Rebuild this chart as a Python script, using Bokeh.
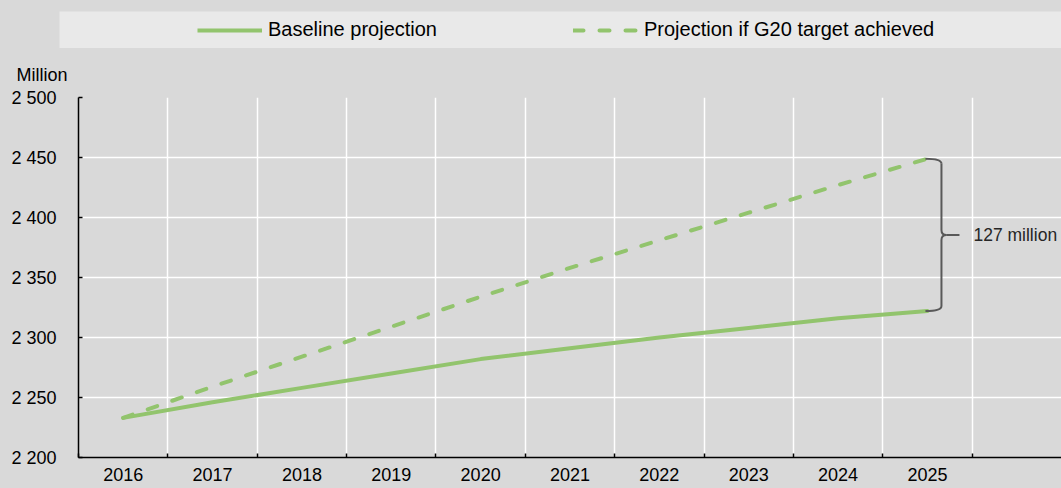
from bokeh.plotting import figure
from bokeh.models import Range1d, FixedTicker, Legend, LegendItem, Label, Title
from bokeh.layouts import column
from bokeh.embed import file_html
from bokeh.resources import INLINE

# ---------------- data ----------------
years = [2016, 2017, 2018, 2019, 2020, 2021, 2022, 2023, 2024, 2025]
baseline = [2233, 2246, 2258, 2270, 2282, 2291, 2300, 2308, 2316, 2322]
g20_target = [2233, 2259, 2284, 2309, 2334, 2358, 2381, 2404, 2427, 2449]
x_tick_labels = ["2016", "2017", "2018", "2019", "2020", "2021", "2022", "2023", "2024", "2025"]
y_ticks = [2200, 2250, 2300, 2350, 2400, 2450, 2500]
y_tick_labels = ["2 200", "2 250", "2 300", "2 350", "2 400", "2 450", "2 500"]
series_names = ["Baseline projection", "Projection if G20 target achieved"]
unit_label = "Million"
gap_label = "127 million"

# ---------------- style ----------------
FONT = "Liberation Sans"
FS = "18px"
LEG_FS = "20px"
BG = "#d9d9d9"
BOX = "#e9e9e9"
GREEN = "#92c46d"
BRACE = "#595959"
W = 1061
TOP_H = 48
MAIN_H = 488 - TOP_H
LEFT = 78
X0, X1 = years[0] - 0.5, years[-1] + 1.5
Y0, Y1 = y_ticks[0], y_ticks[-1]

# ---------------- legend strip ----------------
top = figure(width=W, height=TOP_H, x_range=Range1d(0, 1), y_range=Range1d(0, 1),
             x_axis_location=None, y_axis_location=None,
             toolbar_location=None, output_backend="svg",
             min_border_left=59, min_border_right=0, min_border_top=11, min_border_bottom=0,
             background_fill_color=BOX, border_fill_color=BG, outline_line_color=None)
top.frame_align = False
top.xgrid.visible = False
top.ygrid.visible = False
# legend swatches (the series lie outside this strip's ranges, so only the legend shows)
r1 = top.line(years, baseline, line_color=GREEN, line_width=4)
r2 = top.line(years, g20_target, line_color=GREEN, line_width=4, line_dash="10 16", line_cap="round")
legend = Legend(items=[LegendItem(label=series_names[0], renderers=[r1]),
                       LegendItem(label=series_names[1], renderers=[r2])],
                orientation="horizontal", location=(138, 6.5),
                padding=0, margin=0, spacing=70,
                glyph_width=65, glyph_height=24, label_height=24, label_width=235,
                label_standoff=6, label_text_font=FONT, label_text_font_size=LEG_FS,
                label_text_color="#000000", background_fill_alpha=0, border_line_color=None)
top.add_layout(legend, "center")

# ---------------- main chart ----------------
p = figure(width=W, height=MAIN_H, x_range=Range1d(X0, X1), y_range=Range1d(Y0, Y1),
           toolbar_location=None, output_backend="svg",
           min_border_left=LEFT, min_border_right=0, min_border_top=49, min_border_bottom=31,
           background_fill_color=BG, border_fill_color=BG, outline_line_color=None)
p.frame_align = False
p.title = Title(text=unit_label, align="left", offset=-62, standoff=26,
                text_font=FONT, text_font_size=FS, text_font_style="normal",
                text_color="#000000")

boundaries = [y - 0.5 for y in years] + [years[-1] + 0.5]
xt = FixedTicker(ticks=years, minor_ticks=boundaries)
p.xaxis.ticker = xt
p.xaxis.major_label_overrides = {y: lab for y, lab in zip(years, x_tick_labels)}
p.xaxis.major_tick_in = 0
p.xaxis.major_tick_out = 0
p.xaxis.minor_tick_in = 4
p.xaxis.minor_tick_out = 0
p.xaxis.minor_tick_line_color = "#000000"
p.xaxis.minor_tick_line_width = 1.5
p.xaxis.major_label_standoff = 10
p.xgrid.ticker = xt
p.xgrid.grid_line_color = None
p.xgrid.minor_grid_line_color = "#ffffff"
p.xgrid.minor_grid_line_width = 1.5

p.yaxis.ticker = FixedTicker(ticks=y_ticks, minor_ticks=[])
p.yaxis.major_label_overrides = {t: lab for t, lab in zip(y_ticks, y_tick_labels)}
p.yaxis.major_tick_in = 4
p.yaxis.major_tick_out = 0
p.yaxis.minor_tick_in = 0
p.yaxis.minor_tick_out = 0
p.yaxis.major_tick_line_width = 1.5
p.yaxis.major_label_standoff = 22
p.ygrid.grid_line_color = "#ffffff"
p.ygrid.grid_line_width = 1.5

for ax in (p.xaxis, p.yaxis):
    ax.axis_line_color = "#000000"
    ax.axis_line_width = 1.5
    ax.major_tick_line_color = "#000000"
    ax.major_label_text_font = FONT
    ax.major_label_text_font_size = FS
    ax.major_label_text_color = "#000000"

p.line(years, baseline, line_color=GREEN, line_width=4, line_join="round", line_cap="round")
p.line(years, g20_target, line_color=GREEN, line_width=4, line_dash="10 16",
       line_join="round", line_cap="round")

# brace showing the gap in 2025
px_x = (W - LEFT) / (X1 - X0)
px_y = 360 / (Y1 - Y0)
xc = years[-1]
top_y = g20_target[-1]
bot_y = baseline[-1]
mid = (top_y + bot_y) / 2
xh = xc - 2 / px_x
xv = xc + 14 / px_x
xb = xc + 19 / px_x
xtip = xc + 32 / px_x
r = 5 / px_y
p.quadratic(x0=[xh, xv, xv, xv], y0=[top_y, mid + r, mid - r, bot_y + r],
            x1=[xv, xb, xb, xh], y1=[top_y - r, mid, mid, bot_y],
            cx=[xv, xv, xv, xv], cy=[top_y, mid, mid, bot_y],
            line_color=BRACE, line_width=2)
p.segment(x0=[xv, xv, xb], y0=[top_y - r, mid - r, mid],
          x1=[xv, xv, xtip], y1=[mid + r, bot_y + r, mid],
          line_color=BRACE, line_width=2)
p.add_layout(Label(x=xc, y=mid, x_offset=46, y_offset=0, text=gap_label,
                   text_font=FONT, text_font_size="17.5px", text_color="#262626",
                   text_baseline="middle"))

layout = column(top, p, styles={"background-color": BG})
open("out.html", "w").write(file_html(layout, INLINE))
